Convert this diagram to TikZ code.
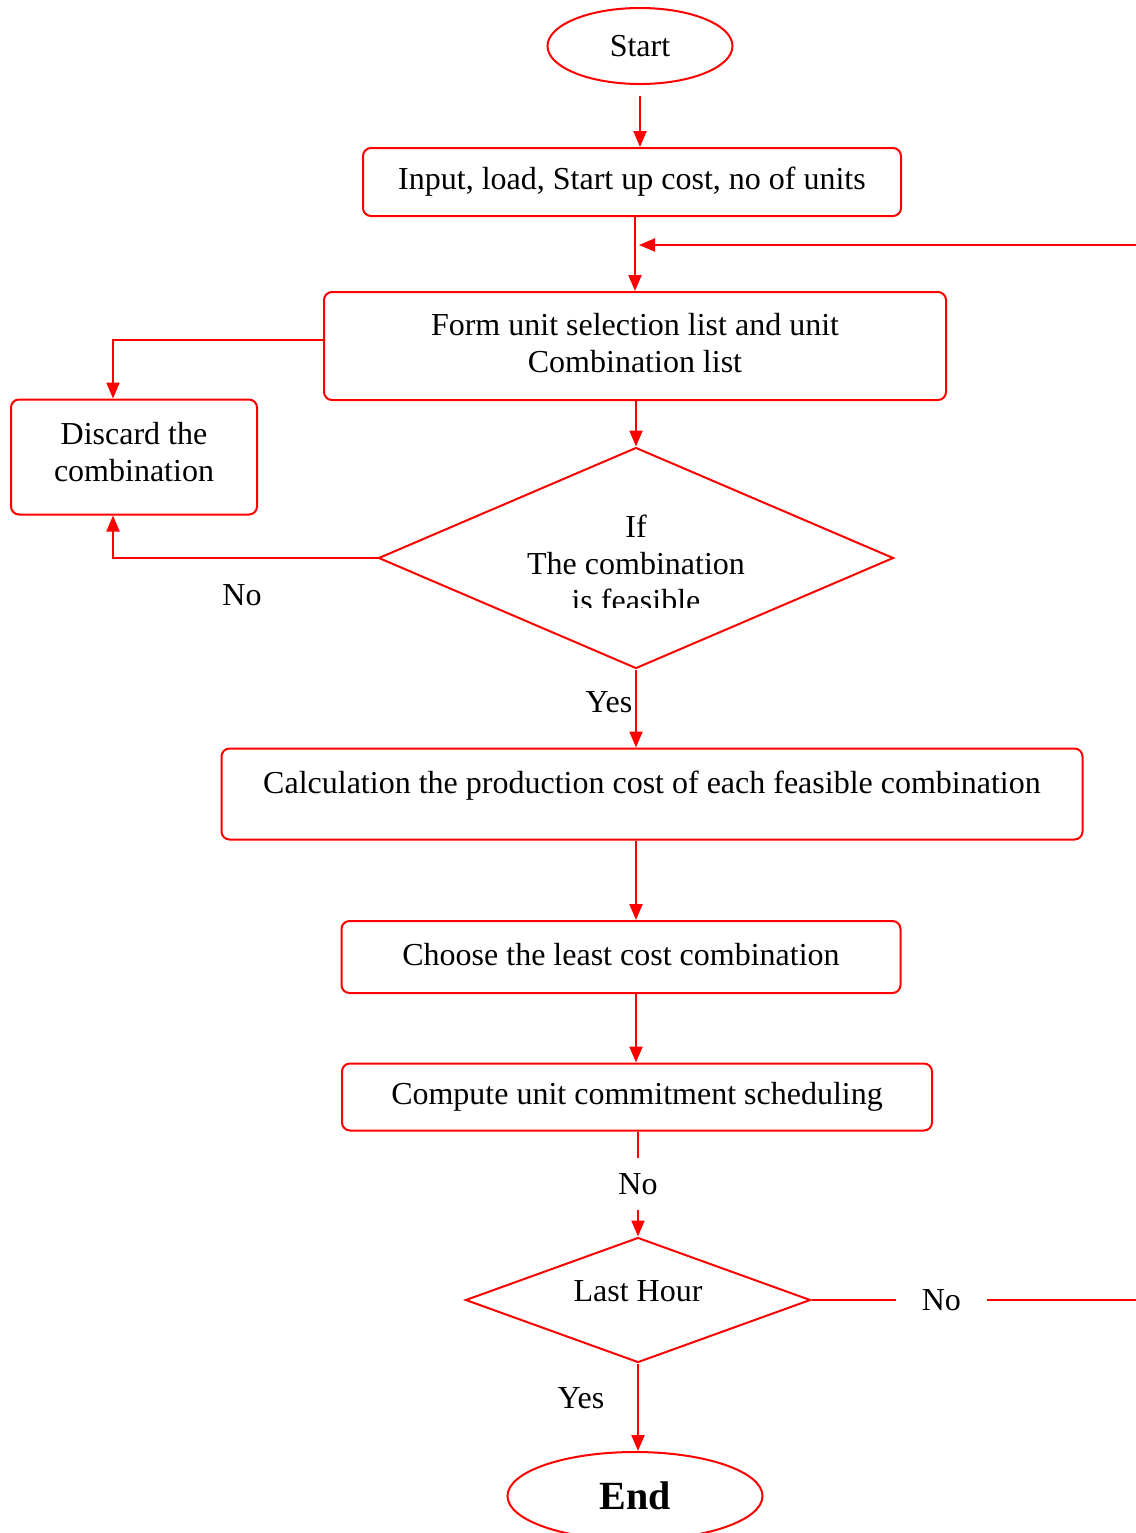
\documentclass[tikz,border=0pt]{standalone}
\usepackage{fontspec}
\setmainfont{Liberation Serif}
\usetikzlibrary{shapes.geometric,arrows.meta}

\begin{document}
\begin{tikzpicture}[x=0.5pt,y=-0.5pt,
	every node/.style={font=\fontsize{16}{18.5}\selectfont},
	box/.style={draw=red,line width=1pt,rounded corners=4pt,align=center,inner sep=0pt},
	term/.style={draw=red,line width=1pt,ellipse,inner sep=0pt},
	decision/.style={draw=red,line width=1pt,diamond,inner sep=0pt},
	line/.style={red,line width=1pt},
	arrow/.style={red,line width=1pt,-{Triangle[length=8pt,width=6.5pt]}},
	gap/.style={fill=white,text=black,inner ysep=7.5pt,inner xsep=13pt}]
	\useasboundingbox (0,0) rectangle (1136,1533);
	\node[term,minimum width=92.5pt,minimum height=38pt] (start) at (640,46) {Start};
	\node[box,minimum width=269pt,minimum height=34pt] (input) at (632,182) {Input, load, Start up cost, no of units};
	\node[box,minimum width=311pt,minimum height=54pt,text depth=3pt] (form) at (635,346) {Form unit selection list and unit\\Combination list};
	\node[box,minimum width=123pt,minimum height=57.5pt,text depth=5pt] (discard) at (134,457) {Discard the\\combination};
	\node[decision,minimum width=257.5pt,minimum height=110.5pt] (feas) at (636,558) {};
	\begin{scope}
		\clip (480,480) rectangle (790,607);
		\node[align=center] (feastext) at (636,563) {If\\The combination\\is feasible};
	\end{scope}
	\node[box,minimum width=430.5pt,minimum height=45.5pt,text depth=12pt] (calc) at (652,794) {Calculation the production cost of each feasible combination};
	\node[box,minimum width=279.5pt,minimum height=36pt,text depth=3pt] (choose) at (621,957) {Choose the least cost combination};
	\node[box,minimum width=295pt,minimum height=33.5pt] (compute) at (637,1097) {Compute unit commitment scheduling};
	\node[decision,aspect=2.8,minimum width=172.5pt,minimum height=62.5pt,text depth=9pt] (hour) at (638,1300) {Last Hour};
	\node[term,minimum width=127.5pt,minimum height=44pt,font=\fontsize{20}{24}\selectfont\bfseries] (end) at (635,1496) {End};
	\node (nofeas) at (242,595) {No};
	\node (yesfeas) at (609,702) {Yes};
	\node (yeshour) at (581,1398) {Yes};
	\coordinate (loopin) at (1136,245);
	\coordinate (loopout) at (1136,1300);
	\draw[arrow,shorten <=5.5pt] (start.south) -- (input.north -| start.south);
	\draw[arrow] (input.south -| form.north) -- (form.north);
	\draw[arrow,shorten >=2pt] (loopin) -- (loopin -| form.north);
	\draw[arrow] ([yshift=3pt]form.west) -| ([xshift=-10.5pt]discard.north);
	\draw[arrow] (form.south -| feas.north) -- (feas.north);
	\draw[arrow] (feas.west) -| ([xshift=-10.5pt]discard.south);
	\draw[arrow] (feas.south) -- (feas.south |- calc.north);
	\draw[arrow] (calc.south -| feas.south) -- (choose.north -| feas.south);
	\draw[arrow] (choose.south -| feas.south) -- (compute.north -| feas.south);
	\draw[arrow] (compute.south -| hour.north) -- node[gap] (nocompute) {No} (hour.north);
	\draw[arrow] (hour.south) -- (end.north -| hour.south);
	\draw[line] (hour.east) -- node[gap,pos=0.4] (nohour) {No} (loopout);
\end{tikzpicture}
\end{document}
